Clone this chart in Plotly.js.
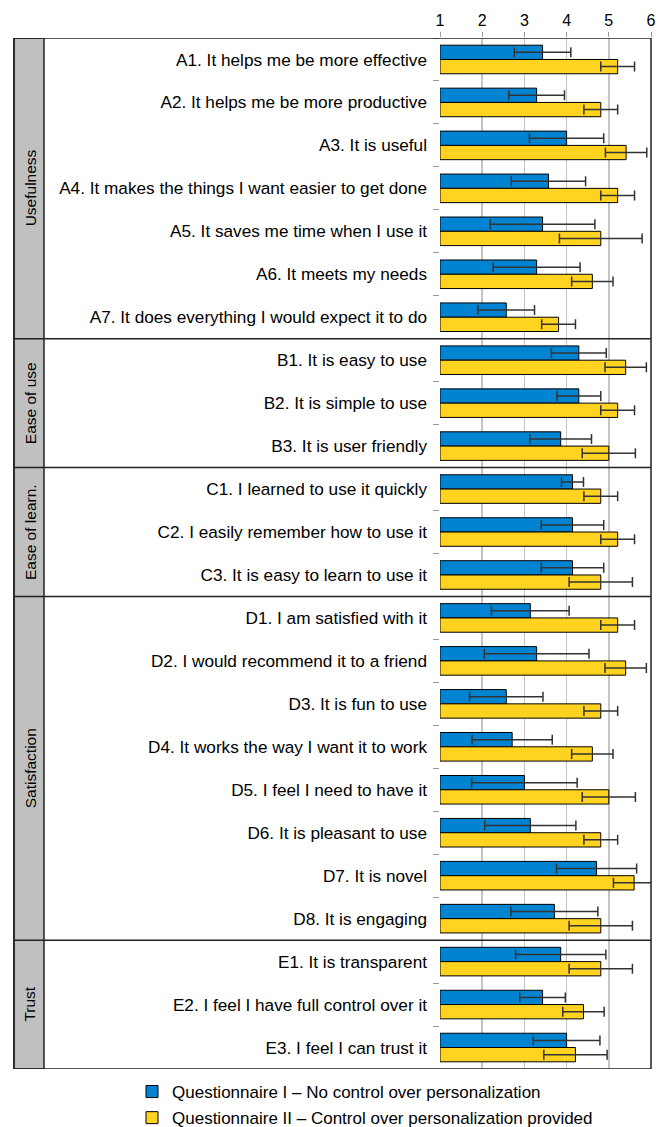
<!DOCTYPE html>
<html>
<head>
<meta charset="utf-8">
<script src="https://cdn.plot.ly/plotly-3.0.1.min.js"></script>
<style>html,body{margin:0;padding:0;background:#fff;}#chart{width:667px;height:1127px;}</style>
</head>
<body>
<div id="chart"></div>
<script>
const categories = [
  "A1. It helps me be more effective",
  "A2. It helps me be more productive",
  "A3. It is useful",
  "A4. It makes the things I want easier to get done",
  "A5. It saves me time when I use it",
  "A6. It meets my needs",
  "A7. It does everything I would expect it to do",
  "B1. It is easy to use",
  "B2. It is simple to use",
  "B3. It is user friendly",
  "C1. I learned to use it quickly",
  "C2. I easily remember how to use it",
  "C3. It is easy to learn to use it",
  "D1. I am satisfied with it",
  "D2. I would recommend it to a friend",
  "D3. It is fun to use",
  "D4. It works the way I want it to work",
  "D5. I feel I need to have it",
  "D6. It is pleasant to use",
  "D7. It is novel",
  "D8. It is engaging",
  "E1. It is transparent",
  "E2. I feel I have full control over it",
  "E3. I feel I can trust it"
];
const groupNames = ["Usefulness", "Ease of use", "Ease of learn.", "Satisfaction", "Trust"];
const groupSizes = [7, 3, 3, 8, 3];

const q1Name = "Questionnaire I \u2013 No control over personalization";
const q1Mean = [3.43, 3.29, 4.00, 3.57, 3.43, 3.29, 2.57, 4.29, 4.29, 3.86, 4.14, 4.14, 4.14, 3.14, 3.29, 2.57, 2.71, 3.00, 3.14, 4.71, 3.71, 3.86, 3.43, 4.00];
const q1Err  = [0.67, 0.66, 0.88, 0.88, 1.24, 1.03, 0.67, 0.65, 0.52, 0.73, 0.26, 0.74, 0.74, 0.92, 1.24, 0.87, 0.95, 1.25, 1.08, 0.95, 1.03, 1.07, 0.54, 0.79];

const q2Name = "Questionnaire II \u2013 Control over personalization provided";
const q2Mean = [5.21, 4.81, 5.41, 5.21, 4.81, 4.61, 3.81, 5.40, 5.21, 5.00, 4.81, 5.21, 4.81, 5.21, 5.40, 4.81, 4.61, 5.00, 4.81, 5.60, 4.81, 4.81, 4.40, 4.21];
const q2Err  = [0.40, 0.40, 0.49, 0.40, 0.98, 0.49, 0.40, 0.49, 0.40, 0.63, 0.40, 0.40, 0.75, 0.40, 0.49, 0.40, 0.49, 0.63, 0.40, 0.49, 0.75, 0.75, 0.49, 0.75];

const xTicks = [1, 2, 3, 4, 5, 6];
const scaleMin = 1;

const FONT = "Liberation Sans, Arial, sans-serif";

function barTrace(name, means, errs, color, group) {
  return {
    type: "bar",
    orientation: "h",
    name: name,
    legendgroup: group,
    y: categories,
    base: scaleMin,
    x: means.map(v => v - scaleMin),
    marker: {color: color, line: {color: "#000000", width: 1}},
    error_x: {type: "data", array: errs, visible: true, color: "#333333", thickness: 1.5, width: 5},
    hoverinfo: "skip"
  };
}

const traces = [
  barTrace(q1Name, q1Mean, q1Err, "#0084d1", "g1"),
  barTrace(q2Name, q2Mean, q2Err, "#ffd320", "g2")
];

// geometry in paper units
const plotLeft = 440, plotRight = 651, plotTop = 38, plotBottom = 1069;
const frameLeft = 14, stripRight = 44;
const pw = plotRight - plotLeft, ph = plotBottom - plotTop;
const px = p => (p - plotLeft) / pw;
const py = p => (plotBottom - p) / ph;

const shapes = [];
const annotations = [];
const n = categories.length;
// gray strip
shapes.push({type: "rect", xref: "paper", yref: "y", x0: px(frameLeft), x1: px(stripRight), y0: -0.5, y1: n - 0.5,
  fillcolor: "#c0c0c0", line: {color: "#222", width: 1.5}, layer: "below"});
// outer frame
shapes.push({type: "rect", xref: "paper", yref: "y", x0: px(frameLeft), x1: 1, y0: -0.5, y1: n - 0.5,
  line: {color: "#222", width: 1.5}, layer: "above"});
let start = 0;
groupNames.forEach((g, i) => {
  const end = start + groupSizes[i];
  if (i > 0) {
    shapes.push({type: "line", xref: "paper", yref: "y", x0: px(frameLeft), x1: 1, y0: start - 0.5, y1: start - 0.5,
      line: {color: "#222", width: 1.5}});
  }
  annotations.push({xref: "paper", yref: "y", x: px((frameLeft + stripRight) / 2 + 1), y: (start + end - 1) / 2,
    xanchor: "center", yanchor: "middle",
    text: g, textangle: -90, showarrow: false, font: {family: FONT, size: 15.5, color: "#000"}});
  start = end;
});

const layout = {
  width: 667, height: 1127,
  margin: {l: plotLeft, r: 667 - plotRight, t: plotTop, b: 1127 - plotBottom, pad: 0, autoexpand: false},
  paper_bgcolor: "#ffffff", plot_bgcolor: "#ffffff",
  barmode: "group", bargap: 0.335, bargroupgap: 0,
  font: {family: FONT, size: 16, color: "#000"},
  xaxis: {
    side: "top", range: [1, 6], tickvals: xTicks, ticktext: xTicks.map(String),
    showgrid: true, gridcolor: "#c4c4c4", gridwidth: 1.5,
    ticks: "outside", ticklen: 5, tickcolor: "#999", zeroline: false,
    showline: false, tickfont: {family: FONT, size: 16, color: "#000"}, fixedrange: true
  },
  yaxis: {
    type: "category", categoryorder: "array", categoryarray: categories,
    range: [n - 0.5, -0.5], tickson: "boundaries", ticks: "outside", ticklen: 6, tickcolor: "#999",
    showgrid: false, showline: false, zeroline: false,
    tickfont: {family: FONT, size: 17.2, color: "#000"}, ticklabelstandoff: 12, fixedrange: true
  },
  shapes: shapes,
  annotations: annotations,
  showlegend: true,
  legend: {
    orientation: "v", x: px(132), xanchor: "left", y: py(1074), yanchor: "top",
    traceorder: "grouped", tracegroupgap: 1, font: {family: FONT, size: 17, color: "#000"},
    bgcolor: "rgba(0,0,0,0)", borderwidth: 0
  }
};

Plotly.newPlot("chart", traces, layout, {displayModeBar: false, staticPlot: true});
</script>
</body>
</html>
